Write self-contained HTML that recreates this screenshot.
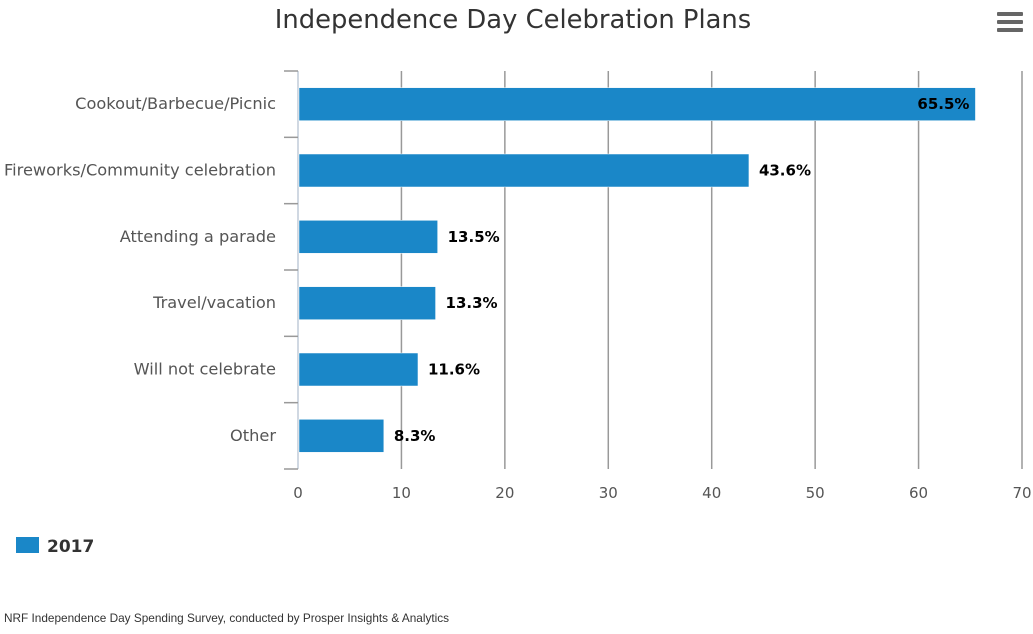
<!DOCTYPE html>
<html><head><meta charset="utf-8">
<style>
html,body{margin:0;padding:0;background:#fff;width:1033px;height:634px;overflow:hidden;font-family:"DejaVu Sans",sans-serif;}
</style></head>
<body>
<svg id="chart" width="1033" height="634" xmlns="http://www.w3.org/2000/svg">
<text x="513" y="28" text-anchor="middle" font-size="25.8" fill="#333">Independence Day Celebration Plans</text>
<g fill="#666">
<rect x="997" y="12" width="26" height="4" rx="1"/>
<rect x="997" y="20" width="26" height="4" rx="1"/>
<rect x="997" y="28" width="26" height="4" rx="1"/>
</g>
<g id="grid"></g>
<g id="bars"></g>
<g id="labels"></g>
<g id="xticks"></g>
<rect x="16" y="537" width="23" height="16" fill="#1a87c8"/>
<text x="47" y="552" font-size="17" font-weight="bold" fill="#333">2017</text>
<text x="4" y="622" font-size="11.8" fill="#333" font-family="Liberation Sans, sans-serif">NRF Independence Day Spending Survey, conducted by Prosper Insights &amp; Analytics</text>
</svg>
<script>
const categories = ["Cookout/Barbecue/Picnic","Fireworks/Community celebration","Attending a parade","Travel/vacation","Will not celebrate","Other"];
const values = [65.5, 43.6, 13.5, 13.3, 11.6, 8.3];
const valueLabels = ["65.5%","43.6%","13.5%","13.3%","11.6%","8.3%"];
const xTicks = [0,10,20,30,40,50,60,70];

const NS = "http://www.w3.org/2000/svg";
const x0 = 298, x1 = 1022, yTop = 71, yBot = 469, xMax = 70;
const xScale = v => x0 + (v / xMax) * (x1 - x0);
const band = (yBot - yTop) / categories.length;
const bandY = i => yTop + i * band;
function mk(tag, attrs, parent){ const e = document.createElementNS(NS, tag); for (const k in attrs) e.setAttribute(k, attrs[k]); parent.appendChild(e); return e; }

const grid = document.getElementById('grid');
const xt = document.getElementById('xticks');
xTicks.forEach(t => {
  const x = xScale(t);
  if (t > 0) {
    const l = mk('line', {x1:x, x2:x, y1:yTop, y2:yBot, stroke:'#999', 'stroke-width':1.5}, grid);
    
    
  }
  const tx = mk('text', {x:x, y:498, 'text-anchor':'middle', 'font-size':15, fill:'#555'}, xt);
  tx.textContent = t;
  
  
});
const axis = mk('line', {x1:x0, x2:x0, y1:yTop, y2:yBot, stroke:'#c0ccd8', 'stroke-width':1.5}, grid);


for (let i = 0; i <= categories.length; i++) {
  const y = bandY(i);
  const tk = mk('line', {x1:284, x2:x0, y1:y, y2:y, stroke:'#999', 'stroke-width':1.5}, grid);
  
  
}

const bars = document.getElementById('bars');
const labels = document.getElementById('labels');
categories.forEach((c, i) => {
  const cy = bandY(i) + band / 2;
  const w = xScale(values[i]) - x0;
  const r = mk('rect', {x:x0 + 1, y:cy - 16.5, width:w - 1, height:33, fill:'#1a87c8', stroke:'#fff', 'stroke-width':0.5}, bars);
  
  
  const cl = mk('text', {x:276, y:cy + 5, 'text-anchor':'end', 'font-size':16.2, fill:'#555'}, labels);
  cl.textContent = c;
  
  
  const inside = values[i] > 60;
  const vl = mk('text', {x: inside ? xScale(values[i]) - 6 : xScale(values[i]) + 10, y:cy + 5, 'text-anchor': inside ? 'end' : 'start', 'font-size':15, 'font-weight':'bold', fill:'#000'}, labels);
  vl.textContent = valueLabels[i];
  
  
});
</script>
</body></html>
